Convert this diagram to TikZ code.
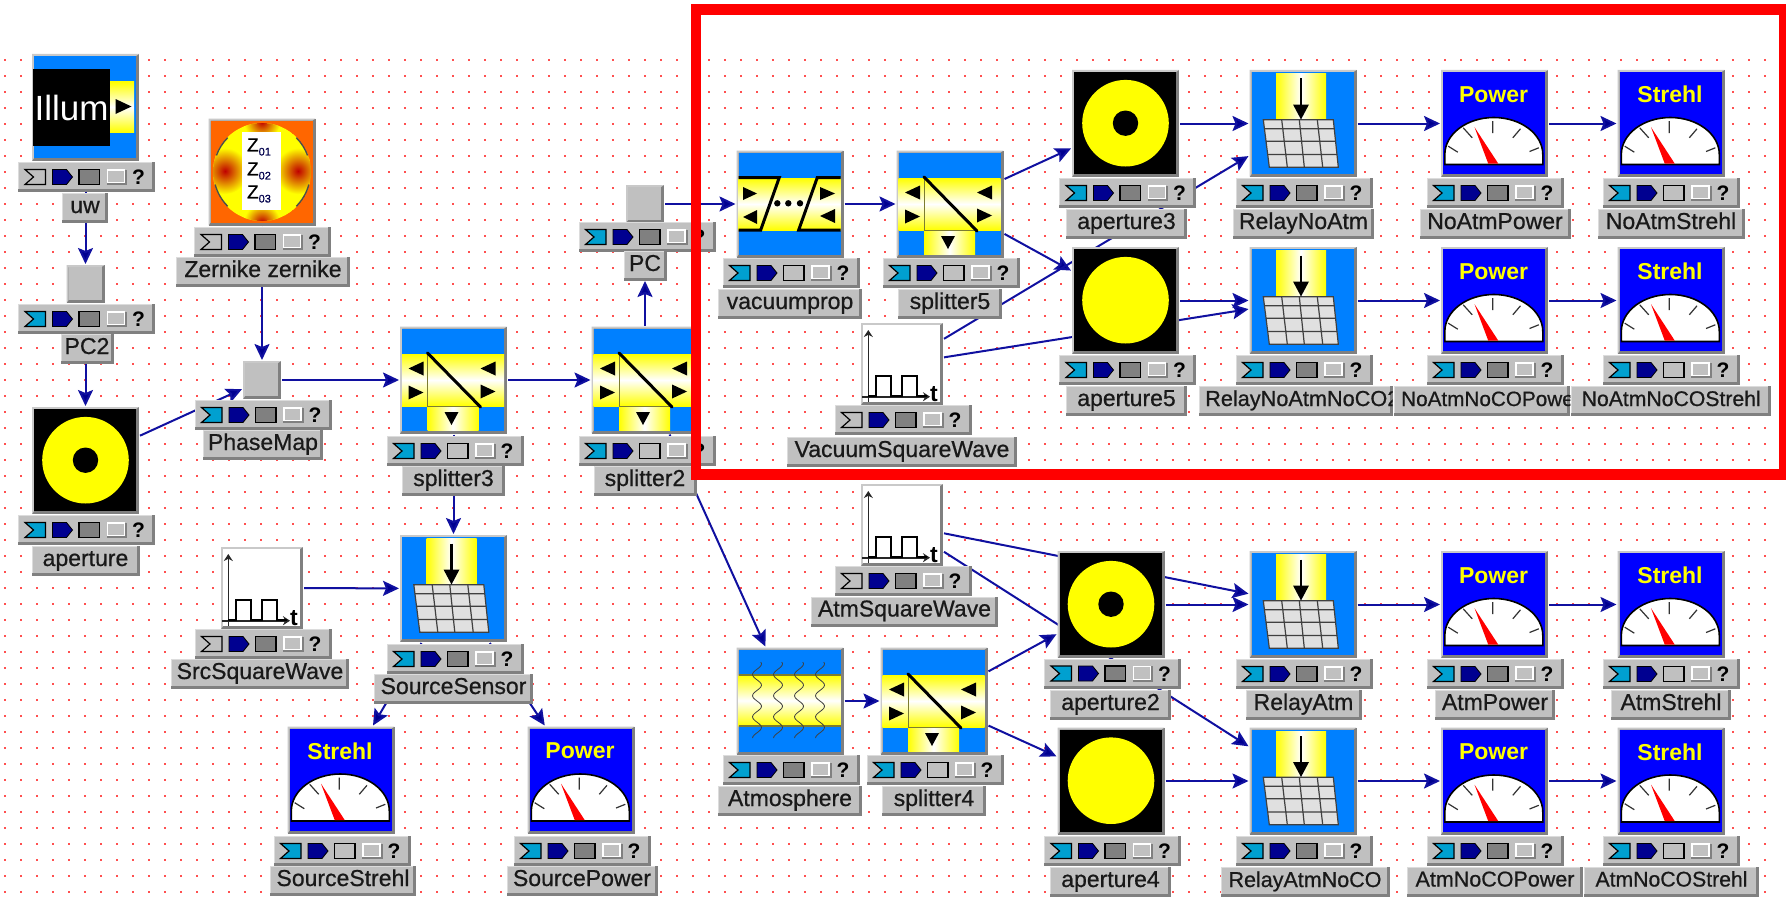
\documentclass[tikz,border=0pt]{standalone}
\usepackage{fontspec}
\setmainfont{Liberation Sans}
\newfontfamily\lblf[FakeBold=0.7]{Liberation Sans}
\usetikzlibrary{arrows.meta,calc}
\definecolor{yellow}{RGB}{255,255,0}
\definecolor{bevd}{HTML}{808080}
\definecolor{bevl}{HTML}{DCDCDC}
\definecolor{boxg}{HTML}{C0C0C0}
\definecolor{bluefill}{HTML}{0080FF}
\definecolor{flagb}{HTML}{00A0D0}
\definecolor{navy2}{HTML}{000090}
\definecolor{wirec}{HTML}{1010A0}
\definecolor{olv}{HTML}{7C7C30}
\definecolor{dotc}{HTML}{FF5050}
\definecolor{orng}{HTML}{FF6600}
\pgfdeclarelayer{dots}
\pgfdeclarelayer{wires}
\pgfsetlayers{dots,wires,main}
\tikzset{
 wire/.style={draw=wirec,line width=2pt,-{Stealth[length=16pt,width=15pt,inset=3pt,fill=navy2]}},
 iconbox/.style={inner sep=0pt,outer sep=1pt,shape=rectangle},
 tbox/.style={fill=boxg,inner sep=0pt,outer sep=0pt,minimum width=137pt,minimum height=30pt},
 lbox/.style={fill=boxg,inner sep=0pt,outer sep=0pt,minimum height=30pt,text height=15pt,text depth=5pt,text=black!90},
 qmark/.style={inner sep=0pt,font=\bfseries\fontsize{21}{21}\selectfont},
 mtext/.style={inner sep=0pt,text=yellow,font=\bfseries\fontsize{23}{23}\selectfont},
}
\newcommand\bev[1]{%
 \fill[bevl] (#1.north west) rectangle ([xshift=1pt]#1.south west);
 \fill[bevl] (#1.north west) rectangle ([yshift=-1pt]#1.north east);
 \fill[bevd] ([yshift=3pt]#1.south west) rectangle (#1.south east);
 \fill[bevd] ([xshift=-3pt]#1.south east) rectangle (#1.north east);}
% toolbar
\newcommand\tbar[5]{%
 \node[tbox] (#1) at (#2,#3) {}; \bev{#1}
 \begin{scope}[shift={(#2,#3)}]
 \filldraw[fill=#4,draw=black,line width=1.2pt] (-61.5,-7.5) -- (-41,-7.5) -- (-41,7.5) -- (-61.5,7.5) -- (-53,0) -- cycle;
 \filldraw[fill=navy2,draw=black,line width=.8pt] (-34,-7.5) -- (-20,-7.5) -- (-14,0) -- (-20,7.5) -- (-34,7.5) -- cycle;
 \filldraw[fill=#5,draw=black,line width=1.2pt] (-7.5,-7.5) rectangle (13,7.5);
 \fill[bevd] (20,-7.5) rectangle (40.5,8);
 \fill[white] (20,-8) rectangle (38.5,6);
 \fill[boxg] (21.5,-6.5) rectangle (37,5);
 \node[qmark] (#1-q) at (52,.5) {?};
 \end{scope}}
% labels
\newcommand\lab[6][23]{%
 \node[lbox,minimum width=#4pt,font=\lblf\fontsize{#1}{#1}\selectfont] (#2) at (#3,#5) {#6}; \bev{#2}}
\newcommand\clab[7]{% id cx w y textx size text
 \node[lbox,minimum width=#3pt] (#1) at (#2,#4) {}; \bev{#1}
 \begin{scope}
 \clip ($(#1.south west)$) rectangle ($(#1.north east)$);
 \node[inner sep=0pt,anchor=west,text height=15pt,text depth=5pt,text=black!90,font=\lblf\fontsize{#6}{#6}\selectfont] (#1-x) at (#5,#4) {#7};
 \end{scope}}
% icons
\newcommand\icn[6]{%
 \pgfmathsetlengthmacro\sz{2*#4}
 \node[iconbox,minimum size=\sz] (#1) at (#2,#3) {};
 \begin{scope}[shift={(#2,#3)}]
 \def\hw{#4}\def\curid{#1}
 \fill[bevd] (-\hw,-\hw) rectangle (\hw,\hw);
 \fill[boxg!85!white] (-\hw,-\hw) -- (\hw,-\hw) -- (\hw-3,-\hw+2) -- (-\hw+2,-\hw+2) -- (-\hw+2,\hw-3) -- (-\hw,\hw) -- cycle;
 \fill[#5] (-\hw+2,-\hw+2) rectangle (\hw-3,\hw-3);
 #6
 \end{scope}}
\newcommand\kNone{}
\newcommand\kSplit{%
 \shade[top color=yellow,bottom color=yellow,middle color=white] (-51.5,-26) rectangle (50.5,26);
 \shade[left color=yellow,right color=yellow,middle color=white] (-26,26) rectangle (25,50.5);
 \draw[olv,line width=1pt] (-26,-26) -- (-26,26) -- (26,26);
 \draw[black,line width=3pt,line cap=round] (-26,-27) -- (27,27);
 \fill (-45,-11.5) -- (-30,-18.5) -- (-30,-4.5) -- cycle;
 \fill (-30,12.5) -- (-45,5.5) -- (-45,19.5) -- cycle;
 \fill (27,-11.5) -- (42,-18.5) -- (42,-4.5) -- cycle;
 \fill (42,11.5) -- (27,4.5) -- (27,18.5) -- cycle;
 \fill (-2,45) -- (-9,32) -- (5,32) -- cycle;}
\newcommand\kVac{%
 \shade[top color=yellow,bottom color=yellow,middle color=white] (-51.5,-26) rectangle (50.5,26);
 \draw[black,line width=3pt] (-51.5,-26.5) -- (-10.7,-26.5) -- (-29.3,26) -- (-51.5,26);
 \draw[black,line width=3pt] (50.5,-26.5) -- (27.3,-26.5) -- (8.7,26) -- (50.5,26);
 \foreach \dx in {-12.7,-1.7,10}{\fill (\dx,-.7) circle[radius=3.2];}
 \fill (-33,-10.5) -- (-47,-17) -- (-47,-4) -- cycle;
 \fill (-47,13) -- (-33,6) -- (-33,20) -- cycle;
 \fill (45,-10.5) -- (30,-17) -- (30,-4) -- cycle;
 \fill (30,12) -- (45,5) -- (45,19) -- cycle;}
\newcommand\kSens{%
 \shade[left color=yellow,right color=yellow,middle color=white] (-27,-50) rectangle (23,-3);
 \filldraw[fill=black!12,draw=black!75,line width=1.2pt] (-39.7,-3.7) -- (30.3,-3.7) -- (35.3,43.7) -- (-33.7,43.7) -- cycle;
 \draw[black!75,line width=1.2pt] (-38.6,5.3) -- (31.3,5.3) (-37,17.7) -- (32.5,17.7) (-35.3,31) -- (34,31)
   (-21.3,-3.7) -- (-15.7,43.7) (-3.7,-3.7) -- (1.3,43.7) (14.3,-3.7) -- (19.7,43.7);
 \draw[black,line width=2.2pt] (-2,-45) -- (-2,-16);
 \fill (-2,-4) -- (-10,-19) -- (6,-19) -- cycle;}
\newcommand\kRing{\fill[yellow] (0,-.3) circle[radius=43.3]; \fill[black] (0,-.3) circle[radius=12.7];}
\newcommand\kDisc{\fill[yellow] (0,-.3) circle[radius=43.3];}
\newcommand\kDial{%
 \filldraw[fill=white,draw=black,line width=1.6pt] (-49.7,41) -- (-49.7,31) arc[start angle=180,end angle=360,x radius=49,y radius=37] -- (48.3,41) -- cycle;
 \draw[black!80,line width=1.2pt] (-1.7,-2.3) -- (-1.7,9.7) (-31.3,4.3) -- (-22.3,14.3) (18.3,14.3) -- (26,5.3) (-46.3,22.7) -- (-36.7,28.7) (35,28) -- (44.3,24.3);
 \fill[red] (-20,3.7) -- (-6.3,40) -- (3.7,40) -- cycle;}
\newcommand\kPower{\kDial \node[mtext] (\curid-m) at (-1,-29) {Power};}
\newcommand\kStrehl{\kDial \node[mtext] (\curid-m) at (-1,-29) {Strehl};}
\newcommand\kWave{%
 \draw[black!85,line width=1.6pt,-{Stealth[length=7pt,width=9pt]}] (-33.7,37.7) -- (-33.7,-34);
 \draw[black!85,line width=1.6pt,-{Stealth[length=7pt,width=9pt]}] (-39.7,32.7) -- (28,32.7);
 \draw[black,line width=2pt] (-33.7,32) -- (-26.3,32) -- (-26.3,12) -- (-11,12) -- (-11,32) -- (-.3,32) -- (-.3,12) -- (14.7,12) -- (14.7,32) -- (24.7,32);
 \node[inner sep=0pt,font=\bfseries\fontsize{23}{23}\selectfont] (\curid-t2) at (32,30) {t};}
\newcommand\kAtm{%
 \shade[top color=yellow,bottom color=yellow,middle color=white] (-51.5,-26) rectangle (50.5,25);
 \draw[olv,line width=1.1pt] (-51.5,-26) -- (50.5,-26) (-51.5,25) -- (50.5,25);
 \foreach \xx in {-33,-12,9,30}{\draw[black!75,line width=.8pt] plot[domain=-39:37,samples=50,smooth] ({\xx+4.5*sin(\x*17)},\x);}}
\newcommand\kIllum{%
 \fill[black] (-52.5,-38.5) rectangle (24.5,38);
 \shade[top color=yellow,bottom color=yellow,middle color=white] (24.5,-25.5) rectangle (48.5,24.5);
 \fill (46,-1) -- (30,-8.5) -- (30,6.5) -- cycle;
 \node[inner sep=0pt,text=white,font=\fontsize{35}{35}\selectfont] (\curid-i) at (-14,0) {Illum};}
\newcommand\kZern{%
 \begin{scope}
 \clip (0,0) circle[radius=49];
 \fill[yellow] (0,0) circle[radius=49];
 \foreach \bx/\by/\br in {-37/-1/23,36/-1/23,0/-50/18,0/50/18}{\shade[inner color=red!75!black,outer color=yellow] (\bx,\by) circle[radius=\br];}
 \end{scope}
 \draw[black!70,line width=1.4pt] (0,0) ++(135:48.5) arc[start angle=135,end angle=165,radius=48.5];
 \draw[black!70,line width=1.4pt] (0,0) ++(15:48.5) arc[start angle=15,end angle=45,radius=48.5];
 \draw[black!70,line width=1.4pt] (0,0) ++(-45:48.5) arc[start angle=-45,end angle=-20,radius=48.5];
 \draw[black!70,line width=1.4pt] (0,0) ++(-135:48.5) arc[start angle=-135,end angle=-160,radius=48.5];
 \fill[white] (-20,-40) rectangle (19,38);
 \foreach \zy/\zs in {-25/01,-1/02,22/03}{\node[inner sep=0pt] (\curid-z\zs) at (-3,\zy) {\lblf\fontsize{19}{19}\selectfont Z\raisebox{-4pt}{\color{black!70!blue}\fontsize{11}{11}\selectfont \zs}};}}
\begin{document}
\begin{tikzpicture}[x=1pt,y=-1pt]
\useasboundingbox (0,0) rectangle (1786,899);
\begin{pgfonlayer}{dots}
\fill[white] (0,0) rectangle (1786,899);
\foreach \ry in {60,76,...,892}{\draw[dotc,line width=1.5pt,dash pattern=on 1.5pt off 14.5pt] (4.2,\ry) -- (1768,\ry);}
\end{pgfonlayer}
% ---- icons
\icn{uw}{85.5}{107.5}{53.5}{bluefill}{\kIllum}
\icn{pctwo}{85.5}{284}{19}{boxg}{\kNone}
\icn{ape}{85.5}{460.5}{53.5}{black}{\kRing}
\icn{zern}{262}{172}{53.5}{orng}{\kZern}
\icn{pmap}{262}{380}{19}{boxg}{\kNone}
\icn{spl3}{453.5}{380}{53.5}{bluefill}{\kSplit}
\icn{spl2}{645}{380}{53.5}{bluefill}{\kSplit}
\icn{sens}{453.5}{588.5}{53.5}{bluefill}{\kSens}
\icn{swave}{262}{588}{41}{white}{\kWave}
\icn{sstr}{341}{780}{53.5}{blue}{\kStrehl}
\icn{spow}{581}{780}{53.5}{blue}{\kPower}
\icn{pc}{645}{204}{19}{boxg}{\kNone}
\icn{vprop}{790}{204}{53.5}{bluefill}{\kVac}
\icn{spl5}{950}{204}{53.5}{bluefill}{\kSplit}
\icn{vwave}{902}{364}{41}{white}{\kWave}
\icn{apt}{1125.5}{123.5}{53.5}{black}{\kRing}
\icn{apf}{1125.5}{300.5}{53.5}{black}{\kDisc}
\icn{ra}{1303}{123.5}{53.5}{bluefill}{\kSens}
\icn{rb}{1303}{300.5}{53.5}{bluefill}{\kSens}
\icn{pa}{1494.5}{123.5}{53.5}{blue}{\kPower}
\icn{pb}{1494.5}{300.5}{53.5}{blue}{\kPower}
\icn{sa}{1671}{123.5}{53.5}{blue}{\kStrehl}
\icn{sb}{1671}{300.5}{53.5}{blue}{\kStrehl}
\icn{awave}{902}{525}{41}{white}{\kWave}
\icn{atm}{790}{701}{53.5}{bluefill}{\kAtm}
\icn{spl4}{934}{701}{53.5}{bluefill}{\kSplit}
\icn{apb}{1111}{604.5}{53.5}{black}{\kRing}
\icn{apd}{1111}{781}{53.5}{black}{\kDisc}
\icn{rc}{1303}{604.5}{53.5}{bluefill}{\kSens}
\icn{rd}{1303}{781}{53.5}{bluefill}{\kSens}
\icn{pc2}{1494.5}{604.5}{53.5}{blue}{\kPower}
\icn{pd}{1494.5}{781}{53.5}{blue}{\kPower}
\icn{sc}{1671}{604.5}{53.5}{blue}{\kStrehl}
\icn{sd}{1671}{781}{53.5}{blue}{\kStrehl}
% ---- toolbars
\tbar{uw-t}{86.5}{177}{boxg}{bevd}
\tbar{pctwo-t}{86.5}{319}{flagb}{bevd}
\tbar{ape-t}{86.5}{530}{flagb}{bevd}
\tbar{zern-t}{262.5}{242}{boxg}{bevd}
\tbar{pmap-t}{263}{415}{flagb}{bevd}
\tbar{spl3-t}{455}{451}{flagb}{boxg}
\tbar{spl2-t}{647}{451}{flagb}{boxg}
\tbar{sens-t}{455}{659}{flagb}{bevd}
\tbar{swave-t}{263}{644}{boxg}{bevd}
\tbar{sstr-t}{342}{851}{flagb}{boxg}
\tbar{spow-t}{582}{851}{flagb}{bevd}
\tbar{pc-t}{647}{237}{flagb}{bevd}
\tbar{vprop-t}{791}{273}{flagb}{boxg}
\tbar{spl5-t}{951}{273}{flagb}{boxg}
\tbar{vwave-t}{903}{420}{boxg}{bevd}
\tbar{apt-t}{1127.5}{193}{flagb}{bevd}
\tbar{apf-t}{1127.5}{370}{flagb}{bevd}
\tbar{ra-t}{1304}{193}{flagb}{bevd}
\tbar{rb-t}{1304}{370}{flagb}{bevd}
\tbar{pa-t}{1495}{193}{flagb}{bevd}
\tbar{pb-t}{1495}{370}{flagb}{bevd}
\tbar{sa-t}{1671}{193}{flagb}{boxg}
\tbar{sb-t}{1671}{370}{flagb}{boxg}
\tbar{awave-t}{903}{581}{boxg}{bevd}
\tbar{atm-t}{791}{770}{flagb}{bevd}
\tbar{spl4-t}{935}{770}{flagb}{boxg}
\tbar{apb-t}{1112.5}{673.5}{flagb}{bevd}
\tbar{apd-t}{1112.5}{851}{flagb}{bevd}
\tbar{rc-t}{1304}{674}{flagb}{bevd}
\tbar{rd-t}{1304}{851}{flagb}{bevd}
\tbar{pc2-t}{1495}{674}{flagb}{bevd}
\tbar{pd-t}{1495}{851}{flagb}{bevd}
\tbar{sc-t}{1671}{674}{flagb}{boxg}
\tbar{sd-t}{1671}{851}{flagb}{boxg}
% ---- labels
\lab{uw-l}{85}{46}{208}{uw}
\lab{pctwo-l}{87}{53}{349}{PC2}
\lab{ape-l}{85.5}{108}{561}{aperture}
\lab{zern-l}{263}{174}{272}{Zernike zernike}
\lab{pmap-l}{263}{120}{445}{PhaseMap}
\lab{spl3-l}{453.5}{103}{481}{splitter3}
\lab{spl2-l}{645}{103}{481}{splitter2}
\lab{sens-l}{453.5}{159}{689}{SourceSensor}
\lab{swave-l}{260}{178}{674}{SrcSquareWave}
\lab{sstr-l}{343}{146}{881}{SourceStrehl}
\lab{spow-l}{582}{151}{881}{SourcePower}
\lab{pc-l}{645}{43}{266}{PC}
\lab{vprop-l}{790}{144}{304}{vacuumprop}
\lab{spl5-l}{950}{104}{304}{splitter5}
\lab{vwave-l}{902}{230}{452}{VacuumSquareWave}
\lab{apt-l}{1126.5}{121}{224}{aperture3}
\lab{apf-l}{1126.5}{121}{401}{aperture5}
\lab{ra-l}{1303.5}{141}{224}{RelayNoAtm}
\clab{rb-l}{1295.6}{194}{401}{1205}{21.7}{RelayNoAtmNoCO2}
\lab{pa-l}{1495}{151}{224}{NoAtmPower}
\clab{pb-l}{1482.2}{176.5}{401}{1401}{20.7}{NoAtmNoCOPower}
\lab{sa-l}{1671}{147}{224}{NoAtmStrehl}
\lab[21.2]{sb-l}{1671.2}{200.5}{401}{NoAtmNoCOStrehl}
\lab{awave-l}{904.5}{187}{611.5}{AtmSquareWave}
\lab{atm-l}{790}{144}{801}{Atmosphere}
\lab{spl4-l}{934}{104}{801}{splitter4}
\lab{apb-l}{1110.5}{121}{705}{aperture2}
\lab{apd-l}{1110.5}{121}{882}{aperture4}
\lab{rc-l}{1303.5}{116}{705}{RelayAtm}
\lab[21.5]{rd-l}{1305}{169}{882}{RelayAtmNoCO}
\lab{pc2-l}{1495}{120}{705}{AtmPower}
\lab[21.5]{pd-l}{1495}{176}{881.5}{AtmNoCOPower}
\lab{sc-l}{1671}{120}{705}{AtmStrehl}
\lab[21.2]{sd-l}{1671.5}{175}{881.5}{AtmNoCOStrehl}
% ---- connectors
\begin{pgfonlayer}{wires}
\foreach \a/\b in {uw/pctwo,pctwo/ape,ape/pmap,zern/pmap,pmap/spl3,spl3/spl2,spl3/sens,swave/sens,sens/sstr,sens/spow,
  spl2/pc-l,pc/vprop,vprop/spl5,spl5/apt,spl5/apf,apt/ra,apf/rb,vwave/ra,vwave/rb,ra/pa,rb/pb,pa/sa,pb/sb,
  spl2/atm,atm/spl4,spl4/apb,spl4/apd,apb/rc,apd/rd,awave/rc,awave/rd,rc/pc2,rd/pd,pc2/sc,pd/sd}{
  \draw[wire] (\a) -- (\b);}
\end{pgfonlayer}
% ---- red frame
\node[draw=red,line width=10.5pt,inner sep=0pt,minimum width=1088pt,minimum height=464.5pt,outer sep=0pt] (redframe) at (1240,242) {};
\end{tikzpicture}
\end{document}
